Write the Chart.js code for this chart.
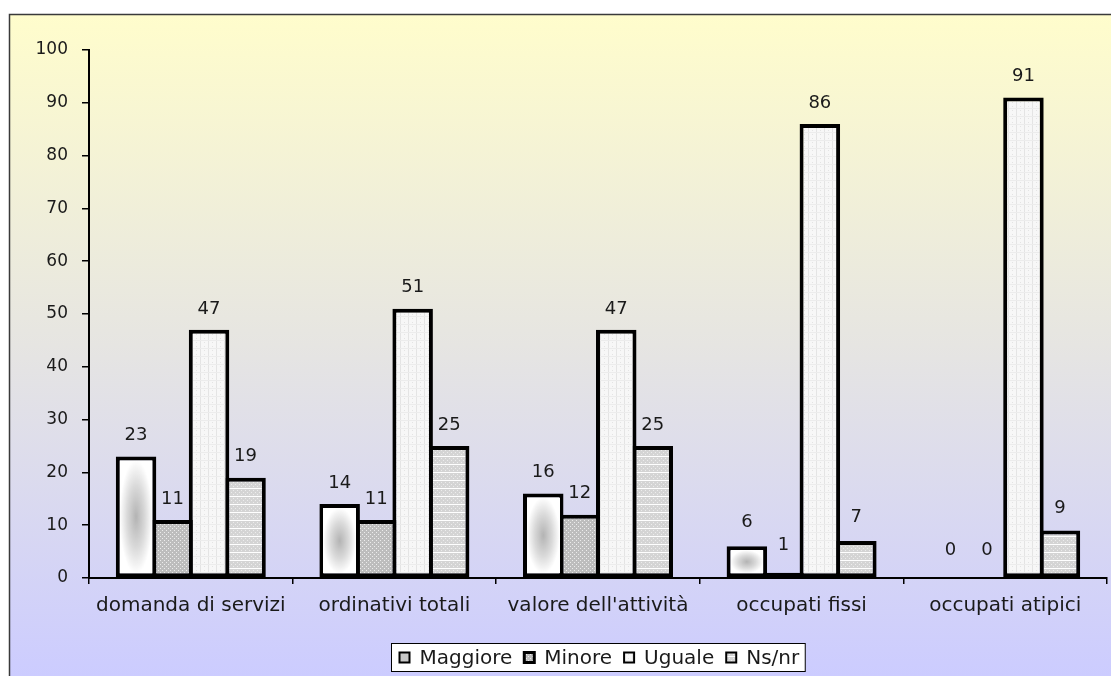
<!DOCTYPE html>
<html>
<head>
<meta charset="utf-8">
<title>Grafico</title>
<script src="https://cdn.jsdelivr.net/npm/chart.js@4/dist/chart.umd.min.js"></script>
<style>
  html, body { margin: 0; padding: 0; background: #fff; }
  #wrap { width: 1111px; height: 676px; position: relative; }
</style>
</head>
<body>
<div id="wrap"><canvas id="chart"></canvas></div>
<script>
/* values */
const categories = ['domanda di servizi', 'ordinativi totali', "valore dell'attività", 'occupati fissi', 'occupati atipici'];
const seriesNames = ['Maggiore', 'Minore', 'Uguale', 'Ns/nr'];
const maggiore = [23, 14, 16, 6, 0];
const minore = [11, 11, 12, 1, 0];
const uguale = [47, 51, 47, 86, 91];
const nsnr = [19, 25, 25, 7, 9];
const yMax = 100;
const yStep = 10;

const FONT = 'Verdana, "DejaVu Sans", sans-serif';
const TEXT = '#1a1a1a';

/* small fill patterns like the old Excel hatches */
function makePattern(w, h, draw) {
    const c = document.createElement('canvas');
    c.width = w;
    c.height = h;
    const g = c.getContext('2d');
    draw(g);
    return g.createPattern(c, 'repeat');
}

const minorePattern = makePattern(4, 4, g => {
    g.fillStyle = '#bdbdbd';
    g.fillRect(0, 0, 4, 4);
    g.fillStyle = '#ececec';
    g.fillRect(0, 0, 1, 1);
    g.fillRect(2, 2, 1, 1);
});

const ugualePattern = makePattern(8, 8, g => {
    g.fillStyle = '#f7f7f7';
    g.fillRect(0, 0, 8, 8);
    g.fillStyle = '#e4e4e4';
    g.fillRect(0, 0, 1, 8);
    g.fillRect(4, 2, 1, 1);
    g.fillRect(4, 6, 1, 1);
    g.fillStyle = '#ececec';
    g.fillRect(0, 4, 8, 1);
});

const nsPattern = makePattern(4, 8, g => {
    g.fillStyle = '#d4d4d4';
    g.fillRect(0, 0, 4, 8);
    g.fillStyle = '#ececec';
    g.fillRect(1, 2, 1, 1);
    g.fillRect(3, 4, 1, 1);
    g.fillRect(1, 6, 1, 1);
    g.fillStyle = '#ffffff';
    g.fillRect(0, 0, 4, 1);
});

/* grey blob used inside the "Maggiore" bars */
const blob = document.createElement('canvas');
blob.width = 100;
blob.height = 100;
(function () {
    const g = blob.getContext('2d');
    g.fillStyle = '#ffffff';
    g.fillRect(0, 0, 100, 100);
    const grad = g.createRadialGradient(50, 50, 0, 50, 50, 50);
    grad.addColorStop(0, '#b4b4b4');
    grad.addColorStop(0.55, '#dadada');
    grad.addColorStop(1, '#ffffff');
    g.fillStyle = grad;
    g.fillRect(0, 0, 100, 100);
})();

const fills = ['#ffffff', minorePattern, ugualePattern, nsPattern];
const seriesData = [maggiore, minore, uguale, nsnr];

const frameBackground = {
    id: 'frameBackground',
    beforeDraw(chart) {
        const ctx = chart.ctx;
        ctx.save();
        ctx.fillStyle = '#ffffff';
        ctx.fillRect(0, 0, chart.width, chart.height);
        const grad = ctx.createLinearGradient(0, 14, 0, chart.height);
        grad.addColorStop(0, '#fffdcc');
        grad.addColorStop(0.5, '#e6e5e2');
        grad.addColorStop(1, '#ccccff');
        ctx.fillStyle = grad;
        ctx.fillRect(9, 14, chart.width, chart.height);
        ctx.strokeStyle = '#3a3a3a';
        ctx.lineWidth = 1.5;
        ctx.strokeRect(9.5, 14.5, chart.width + 10, chart.height + 10);
        ctx.restore();
    }
};

const maggioreShading = {
    id: 'maggioreShading',
    afterDatasetDraw(chart, args) {
        if (args.index !== 0) return;
        const ctx = chart.ctx;
        args.meta.data.forEach(bar => {
            const p = bar.getProps(['x', 'y', 'base', 'width'], true);
            const inset = 4;
            const left = p.x - p.width / 2 + inset;
            const top = Math.min(p.y, p.base) + inset;
            const w = p.width - inset * 2;
            const h = Math.abs(p.base - p.y) - inset * 2;
            if (w <= 0 || h <= 0) return;
            ctx.drawImage(blob, left, top, w, h);
        });
    }
};

const valueLabels = {
    id: 'valueLabels',
    afterDatasetsDraw(chart) {
        const ctx = chart.ctx;
        ctx.save();
        ctx.font = '18px ' + FONT;
        ctx.fillStyle = TEXT;
        ctx.textAlign = 'center';
        ctx.textBaseline = 'middle';
        chart.data.datasets.forEach((ds, i) => {
            chart.getDatasetMeta(i).data.forEach((bar, j) => {
                const v = ds.data[j];
                const offset = v < 10 ? 22 + (10 - v) * 0.6 : 21;
                ctx.fillText(String(v), bar.x, bar.y - offset);
            });
        });
        ctx.restore();
    }
};

const boxedLegend = {
    id: 'boxedLegend',
    afterDraw(chart) {
        const ctx = chart.ctx;
        const area = chart.chartArea;
        ctx.save();
        ctx.font = '20px ' + FONT;
        const sq = 10;
        const gapAfterSq = 10;
        const gapBetween = 12;
        const padL = 8, padR = 6;
        const widths = seriesNames.map(n => sq + gapAfterSq + ctx.measureText(n).width);
        const total = widths.reduce((a, b) => a + b, 0) + gapBetween * (seriesNames.length - 1) + padL + padR;
        const boxLeft = Math.round((area.left + area.right) / 2 - total / 2) + 0.5;
        const boxTop = 643.5;
        const boxH = 28;
        ctx.fillStyle = '#ffffff';
        ctx.fillRect(boxLeft, boxTop, total, boxH);
        ctx.strokeStyle = '#000000';
        ctx.lineWidth = 1;
        ctx.strokeRect(boxLeft, boxTop, total, boxH);
        let x = boxLeft + padL;
        const cy = boxTop + boxH / 2;
        seriesNames.forEach((name, i) => {
            ctx.fillStyle = i === 0 ? '#c8c8c8' : fills[i];
            ctx.fillRect(x, cy - sq / 2, sq, sq);
            ctx.strokeStyle = '#000000';
            ctx.lineWidth = i === 1 ? 3 : 2;
            ctx.strokeRect(x, cy - sq / 2, sq, sq);
            ctx.fillStyle = TEXT;
            ctx.textAlign = 'left';
            ctx.textBaseline = 'middle';
            ctx.fillText(name, x + sq + gapAfterSq, cy + 1);
            x += widths[i] + gapBetween;
        });
        ctx.restore();
    }
};

const ctx = document.getElementById('chart').getContext('2d');
new Chart(ctx, {
    type: 'bar',
    data: {
        labels: categories,
        datasets: seriesNames.map((name, i) => ({
            label: name,
            data: seriesData[i],
            backgroundColor: fills[i],
            borderColor: '#000000',
            borderWidth: 4,
            borderSkipped: false,
            inflateAmount: 0,
            categoryPercentage: 0.717,
            barPercentage: 1.11
        }))
    },
    options: {
        responsive: true,
        maintainAspectRatio: false,
        animation: false,
        events: [],
        layout: {
            padding: { left: 0, right: 4, top: 50, bottom: 0 }
        },
        plugins: {
            legend: { display: false },
            tooltip: { enabled: false }
        },
        scales: {
            x: {
                afterFit: scale => { scale.height = 98; },
                border: { display: true, color: '#000000', width: 2 },
                grid: {
                    offset: true,
                    drawOnChartArea: false,
                    drawTicks: true,
                    tickLength: 6,
                    color: '#000000',
                    lineWidth: 1.5
                },
                ticks: {
                    color: TEXT,
                    font: { family: FONT, size: 20 },
                    padding: 10,
                    maxRotation: 0,
                    autoSkip: false
                }
            },
            y: {
                min: 0,
                max: yMax,
                afterFit: scale => { scale.width = 89; },
                border: { display: true, color: '#000000', width: 2 },
                grid: {
                    drawOnChartArea: false,
                    drawTicks: true,
                    tickLength: 7,
                    color: '#000000',
                    lineWidth: 1.5
                },
                ticks: {
                    stepSize: yStep,
                    color: TEXT,
                    font: { family: FONT, size: 17 },
                    padding: 14
                }
            }
        }
    },
    plugins: [frameBackground, maggioreShading, valueLabels, boxedLegend]
});
</script>
</body>
</html>
